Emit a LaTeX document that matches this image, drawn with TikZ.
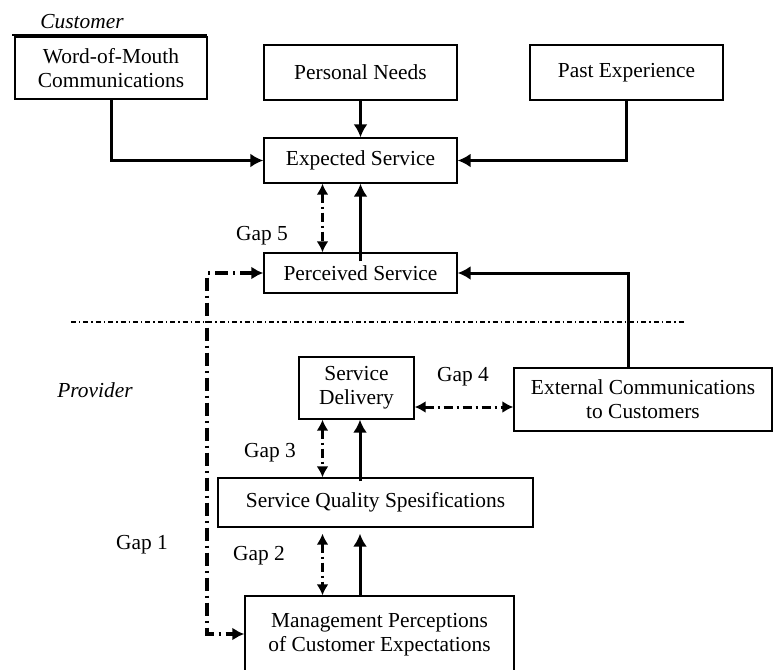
\documentclass[tikz,border=0pt]{standalone}
\usepackage{fontspec}
\setmainfont{Liberation Serif}
\usepackage{tikz}
\usetikzlibrary{calc}
\usetikzlibrary{arrows.meta,positioning}

\begin{document}
\begin{tikzpicture}[x=0.5pt,y=-0.5pt,
	font=\fontsize{10.7pt}{12pt}\selectfont,
	box/.style={draw,line width=0.7pt,align=center,inner sep=0pt},
	arr/.style={-{Latex[length=6.5pt,width=7pt]},line width=1.5pt},
	gaparr/.style={{Latex[length=5.5pt,width=6pt]}-{Latex[length=5.5pt,width=6pt]},line width=1.5pt,dash pattern=on 4.5pt off 2pt on 1pt off 2pt},
	gapone/.style={{Latex[length=6pt,width=6.5pt]}-{Latex[length=6pt,width=6.5pt]},line width=1.7pt,dash pattern=on 6.5pt off 2.5pt on 1pt off 2.5pt},
	sepline/.style={line width=0.7pt,dash pattern=on 2.5pt off 1.5pt on 0.7pt off 1.5pt}]
 	\useasboundingbox (0,0) rectangle (776,669);
 	\node (customer) at (82,22) {\textit{Customer}};
 	\node (provider) at (95,390) {\textit{Provider}};
 	\node[box,minimum width=96pt,minimum height=31pt] (wom) at (111,68) {Word-of-Mouth\\Communications};
 	\node[box,minimum width=96.5pt,minimum height=27.5pt] (needs) at (360.5,72.5) {Personal Needs};
 	\node[box,minimum width=96.5pt,minimum height=27.5pt] (past) at (626.5,72.5) {Past Experience};
 	\node[box,minimum width=96.5pt,minimum height=22.5pt] (expected) at (360.5,160.5) {Expected Service};
 	\node[box,minimum width=96.5pt,minimum height=20pt] (perceived) at (360.5,273) {Perceived Service};
 	\node[box,minimum width=57.5pt,minimum height=31pt] (delivery) at (356.5,388) {Service\\Delivery};
 	\node[box,minimum width=129pt,minimum height=31.5pt] (external) at (643,399.5) {External Communications\\to Customers};
 	\node[box,minimum width=157.5pt,minimum height=24.5pt] (specs) at (375.5,502.5) {Service Quality Spesifications};
 	\node[box,minimum width=134.5pt,minimum height=39pt] (mgmt) at (379.5,635) {Management Perceptions\\of Customer Expectations};
 	\node (gap1) at (142,545) {Gap 1};
 	\node (gap2) at (259,556) {Gap 2};
 	\node (gap3) at (270,453) {Gap 3};
 	\node (gap4) at (463,377) {Gap 4};
 	\node (gap5) at (262,236) {Gap 5};
 	\coordinate (gx) at (322.5,0);
 	\coordinate (sx) at (360,0);
 	\coordinate (lx) at (207,0);
 	\coordinate (ex) at (628,0);
 	\draw[line width=1pt] (12,35) -- (207,35);
 	\draw[sepline] (71,322) -- (686,322);
 	\draw[arr] (wom.south) |- (expected.west);
 	\draw[arr] (needs) -- (expected);
 	\draw[arr] (past.south) |- (expected.east);
 	\draw[arr] ([yshift=-4.5pt]perceived.north) -- (expected.south);
 	\draw[gaparr] (gx |- expected.south) -- (gx |- perceived.north);
 	\draw[arr] (ex |- external.north) |- (perceived.east);
 	\draw[gaparr] ($(delivery.east)+(0,19)$) -- (external.west |- {$(delivery.east)+(0,19)$});
 	\draw[gaparr] (gx |- delivery.south) -- (gx |- specs.north);
 	\draw[arr] ([yshift=-2pt]sx |- specs.north) -- (sx |- delivery.south);
 	\draw[gaparr] ([yshift=-3pt]gx |- specs.south) -- (gx |- mgmt.north);
 	\draw[arr] (sx |- mgmt.north) -- ([yshift=-3pt]sx |- specs.south);
 	\draw[gapone] (perceived.west) -- (lx |- perceived.west) -- (lx |- 0,634) -- (mgmt.west |- 0,634);
 \end{tikzpicture}
\end{document}
